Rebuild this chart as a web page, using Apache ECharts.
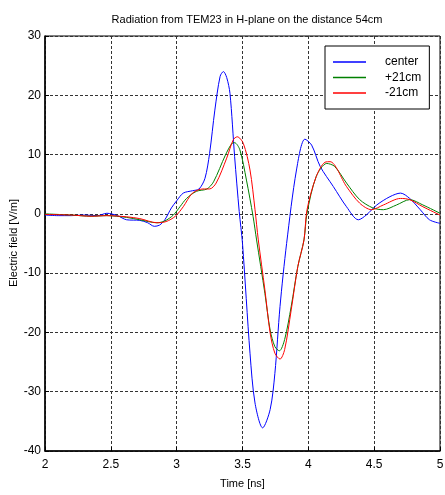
<!DOCTYPE html>
<html>
<head>
<meta charset="utf-8">
<script src="https://cdn.jsdelivr.net/npm/echarts@6/dist/echarts.min.js"></script>
<style>
  html, body { margin: 0; padding: 0; background: #fff; }
  #chart { width: 445px; height: 495px; }
</style>
</head>
<body>
<div id="chart"></div>
<script>
// time [ns], field [V/m]
var center = [[2.0,-0.2],[2.1,-0.3],[2.2,-0.3],[2.3,-0.2],[2.4,-0.3],[2.47,0.1],[2.55,-0.3],[2.62,-1.0],[2.72,-1.1],[2.78,-1.5],[2.83,-2.1],[2.87,-1.9],[2.91,-1.0],[2.96,1.0],[3.0,2.2],[3.05,3.5],[3.12,3.9],[3.17,4.2],[3.215,6.0],[3.25,10.2],[3.29,17.5],[3.33,23.2],[3.355,24.0],[3.38,23.0],[3.405,20.3],[3.44,9.7],[3.475,0.4],[3.50,-5.0],[3.557,-23.5],[3.595,-31.9],[3.653,-36.1],[3.71,-33.0],[3.746,-26.9],[3.785,-15.6],[3.835,-5.0],[3.91,7.4],[3.974,12.6],[4.025,11.6],[4.09,8.0],[4.19,4.6],[4.29,1.2],[4.38,-1.0],[4.44,-0.2],[4.52,1.5],[4.62,2.9],[4.70,3.5],[4.77,2.6],[4.85,0.7],[4.92,-1.0],[5.0,-1.6]];
var plus21 = [[2.0,0],[2.2,-0.2],[2.35,-0.4],[2.47,-0.3],[2.62,-0.6],[2.72,-1.0],[2.85,-1.5],[2.91,-1.2],[2.975,-0.2],[3.025,1.2],[3.075,2.6],[3.15,3.8],[3.23,4.2],[3.28,5.4],[3.37,9.9],[3.42,11.9],[3.44,12.0],[3.48,10.8],[3.53,5.7],[3.58,-0.4],[3.607,-4.4],[3.67,-13.4],[3.71,-19.6],[3.746,-22.4],[3.78,-23.1],[3.82,-21.2],[3.87,-15.6],[3.92,-8.9],[3.967,-4.4],[3.99,0.1],[4.06,6.3],[4.14,8.5],[4.20,8.0],[4.29,5.2],[4.39,2.4],[4.49,1.0],[4.57,0.7],[4.67,1.5],[4.77,2.4],[4.87,1.5],[5.0,0.1]];
var minus21 = [[2.0,-0.1],[2.2,-0.2],[2.35,-0.4],[2.47,-0.3],[2.62,-0.5],[2.72,-0.8],[2.85,-1.5],[2.92,-1.3],[2.99,-0.4],[3.05,1.2],[3.12,3.5],[3.20,4.2],[3.25,4.2],[3.30,5.2],[3.38,9.4],[3.43,12.5],[3.46,13.0],[3.506,11.9],[3.557,7.4],[3.595,0.7],[3.62,-4.4],[3.67,-12.8],[3.71,-20.1],[3.746,-23.5],[3.785,-24.5],[3.82,-22.9],[3.87,-16.2],[3.92,-8.9],[3.967,-4.4],[3.99,0.7],[4.06,6.3],[4.126,8.7],[4.165,8.8],[4.29,4.6],[4.39,1.8],[4.48,0.7],[4.57,1.5],[4.70,2.6],[4.77,2.4],[4.87,1.2],[5.0,-0.2]];
var seriesNames = ['center', '+21cm', '-21cm'];
var seriesColors = ['#0000ff', '#008000', '#ff0000'];

var font = 'Liberation Sans, Arial, sans-serif';
var chart = echarts.init(document.getElementById('chart'));

function mkSeries(name, data, color) {
    return {
        name: name,
        type: 'line',
        data: data,
        smooth: 0.3,
        symbol: 'none',
        lineStyle: { color: color, width: 1 },
        itemStyle: { color: color }
    };
}

chart.setOption({
    animation: false,
    title: {
        text: 'Radiation from TEM23 in H-plane on the distance 54cm',
        left: 242, top: 9, textAlign: 'center',
        textStyle: { fontFamily: font, fontSize: 11, fontWeight: 'normal', color: '#000' }
    },
    // y axis title, placed by hand (axis name kept drifting left)
    graphic: [{
        type: 'text',
        x: 14, y: 243,
        rotation: Math.PI / 2,
        style: {
            text: 'Electric field [V/m]',
            font: '11px Liberation Sans, Arial, sans-serif',
            fill: '#000', align: 'center', verticalAlign: 'middle'
        }
    }],
    legend: {
        orient: 'vertical',
        left: 325, top: 46,
        padding: [10, 8, 10, 8],
        icon: 'rect',
        itemWidth: 33, itemHeight: 1.5, itemGap: 3.5,
        borderColor: '#000', borderWidth: 1,
        backgroundColor: '#fff',
        data: seriesNames,
        textStyle: { fontFamily: font, fontSize: 12, color: '#000', padding: [0, 0, 0, 14] }
    },
    grid: {
        left: 45, right: 5, top: 36, bottom: 44,
        outerBoundsMode: 'none',
        show: true, borderColor: '#000', borderWidth: 1
    },
    xAxis: {
        type: 'value', min: 2, max: 5, interval: 0.5,
        name: 'Time [ns]', nameLocation: 'middle', nameGap: 27,
        nameMoveOverlap: false,
        nameTextStyle: { fontFamily: font, fontSize: 11, color: '#000' },
        axisLine: { onZero: false, lineStyle: { color: '#000', width: 1.5 } },
        axisTick: { inside: true, length: 4, lineStyle: { color: '#000' } },
        axisLabel: { fontFamily: font, fontSize: 12, color: '#000', margin: 8 },
        splitLine: { show: true, lineStyle: { color: '#333', type: [3, 2], width: 1 } }
    },
    yAxis: {
        type: 'value', min: -40, max: 30, interval: 10,
        axisLine: { show: true, onZero: false, lineStyle: { color: '#000', width: 1.5 } },
        axisTick: { show: true, inside: true, length: 4, lineStyle: { color: '#000' } },
        axisLabel: { fontFamily: font, fontSize: 12, color: '#000', margin: 4 },
        splitLine: { show: true, lineStyle: { color: '#333', type: [3, 2], width: 1 } }
    },
    series: [
        mkSeries(seriesNames[0], center, seriesColors[0]),
        mkSeries(seriesNames[1], plus21, seriesColors[1]),
        mkSeries(seriesNames[2], minus21, seriesColors[2])
    ]
});
</script>
</body>
</html>
